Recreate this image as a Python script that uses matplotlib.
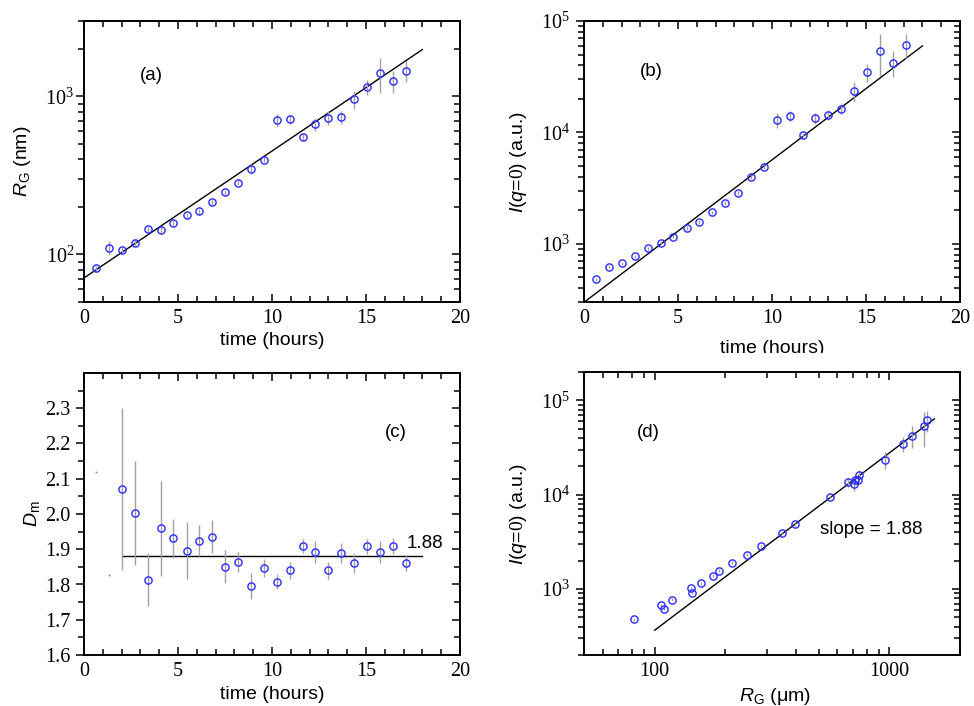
import matplotlib
matplotlib.use("Agg")
import matplotlib.pyplot as plt
import numpy as np
from matplotlib.ticker import MultipleLocator, LogLocator, FuncFormatter, NullFormatter, FixedLocator
from matplotlib.transforms import Bbox, TransformedBbox

plt.rcParams['font.family'] = ['Liberation Sans', 'DejaVu Sans']
plt.rcParams['mathtext.fontset'] = 'custom'
plt.rcParams['mathtext.rm'] = 'Liberation Serif'
plt.rcParams['mathtext.it'] = 'Liberation Sans:italic'
plt.rcParams['mathtext.sf'] = 'Liberation Sans'

# ---------------- data ----------------
times = [0.66, 1.33, 2.04, 2.71, 3.42, 4.10, 4.75, 5.46, 6.13, 6.83, 7.52, 8.21, 8.90,
         9.57, 10.25, 10.94, 11.63, 12.30, 13.00, 13.67, 14.36, 15.05, 15.74, 16.42, 17.11]

rg = [81.5, 110, 106.5, 118.5, 144, 143, 158, 177, 188, 214, 247, 284, 349,
      397, 708, 715, 556, 668, 733, 740, 957, 1140, 1406, 1250, 1445]
rg_err = [3, 11, 5, 5, 6, 6, 6, 7, 7, 8, 9, 10, 25,
          15, 70, 45, 25, 60, 70, 70, 130, 125, 350, 200, 220]

i_q0 = [479, 622, 671, 770, 908, 1021, 1156, 1391, 1563, 1909, 2316, 2866, 3961,
        4870, 12850, 14160, 9570, 13490, 14350, 16360, 23560, 34900, 53800, 42300, 61400]
i_err = [15, 20, 20, 25, 30, 35, 40, 50, 55, 70, 80, 100, 150,
         200, 2000, 1500, 400, 1500, 1500, 1800, 5000, 6500, 22000, 11000, 15000]

dm_times = times[2:]
dm = [2.072, 2.003, 1.814, 1.959, 1.931, 1.896, 1.924, 1.936, 1.851, 1.863, 1.796,
      1.847, 1.808, 1.840, 1.909, 1.892, 1.841, 1.889, 1.861, 1.908, 1.892, 1.909, 1.861]
dm_err = [0.23, 0.148, 0.075, 0.135, 0.056, 0.08, 0.044, 0.048, 0.048, 0.028, 0.038,
          0.026, 0.021, 0.025, 0.021, 0.03, 0.024, 0.029, 0.028, 0.021, 0.031, 0.022, 0.023]
dm_stray_t = times[:2]
dm_stray = [2.12, 1.826]

# fits
fit_t = [0.0, 18.0]
rg_fit0, rg_fit_log_slope = 71.0, 0.0803      # log10 per hour
i_fit0, i_fit_log_slope = 298.0, 0.1279
dm_fit = 1.88
dm_fit_t = [2.04, 18.0]
slope = 1.88
d_fit_rg = [100.0, 1556.0]
d_fit_amp = 366.0   # I at RG=100

# ---------------- style ----------------
BLUE = '#2b2bff'
GREY = '#a0a0a0'
TICK_FS = 14.5
LAB_FS = 14
TXT_FS = 13.5

fig = plt.figure(figsize=(9.74, 7.06), dpi=100)
W, H = 974, 706
def pos(l, t, r, b):
    return [l / W, 1 - b / H, (r - l) / W, (b - t) / H]

axA = fig.add_axes(pos(84, 21, 460, 302))
axB = fig.add_axes(pos(584, 21, 960, 302))
axC = fig.add_axes(pos(84, 373, 460, 655))
axD = fig.add_axes(pos(584, 372, 960, 655))

pow_fmt = FuncFormatter(lambda v, p: r'$\mathrm{10^{%d}}$' % int(round(np.log10(v))))

def style(ax, ylog, ypad):
    for s in ax.spines.values():
        s.set_linewidth(1.2)
    ax.tick_params(axis='x', which='both', direction='in', top=True, bottom=True,
                   labelsize=TICK_FS, labelfontfamily='Liberation Serif', pad=5, width=1.1)
    ax.tick_params(axis='x', which='major', length=6)
    ax.tick_params(axis='x', which='minor', length=4)
    ax.tick_params(axis='y', which='both', direction='out', left=True, right=False,
                   labelsize=TICK_FS, labelfontfamily='Liberation Serif', pad=ypad, width=1.1)
    ax.tick_params(axis='y', which='major', length=6)
    ax.tick_params(axis='y', which='minor', length=4)
    tw = ax.twinx()
    if ylog:
        tw.set_yscale('log')
        tw.yaxis.set_major_locator(LogLocator(base=10))
        tw.yaxis.set_minor_locator(LogLocator(base=10, subs=np.arange(2, 10)))
    else:
        tw.yaxis.set_major_locator(ax.yaxis.get_major_locator())
        tw.yaxis.set_minor_locator(ax.yaxis.get_minor_locator())
    tw.set_ylim(ax.get_ylim())
    tw.tick_params(axis='y', which='both', direction='in', right=True, labelright=False, width=1.1)
    tw.tick_params(axis='y', which='major', length=6)
    tw.tick_params(axis='y', which='minor', length=4)
    for s in tw.spines.values():
        s.set_linewidth(1.2)
    return tw

def time_axis(ax):
    ax.set_xlim(0, 20)
    ax.xaxis.set_major_locator(MultipleLocator(5))
    ax.xaxis.set_minor_locator(MultipleLocator(1))

def log_y(ax, lo, hi):
    ax.set_yscale('log')
    ax.set_ylim(lo, hi)
    ax.yaxis.set_major_locator(LogLocator(base=10))
    ax.yaxis.set_minor_locator(LogLocator(base=10, subs=np.arange(2, 10)))
    ax.yaxis.set_major_formatter(pow_fmt)
    ax.yaxis.set_minor_formatter(NullFormatter())

eb_kw = dict(fmt='o', mfc='none', mec=BLUE, mew=1.0, ms=5.2, ecolor=GREY,
             elinewidth=1.0, capsize=0, zorder=3)

# ---------------- (a) ----------------
time_axis(axA)
log_y(axA, 50, 3000)
axA.errorbar(times, rg, yerr=rg_err, **eb_kw)
t_line = np.array(fit_t)
axA.plot(t_line, rg_fit0 * 10 ** (rg_fit_log_slope * t_line), color='black', lw=1.0, zorder=2)
axA.text(3.6, 1365, '(a)', fontsize=TXT_FS, ha='center', va='center')
axA.set_xlabel('time (hours)', fontsize=LAB_FS)
axA.set_ylabel(r'$\mathit{R}_{\mathsf{G}}$ (nm)', fontsize=LAB_FS)
axA.xaxis.set_label_coords(0.5, -0.108)
axA.yaxis.set_label_coords(-0.136, 0.5)
style(axA, True, 1)

# ---------------- (b) ----------------
time_axis(axB)
log_y(axB, 300, 1e5)
axB.errorbar(times, i_q0, yerr=i_err, **eb_kw)
axB.plot(t_line, i_fit0 * 10 ** (i_fit_log_slope * t_line), color='black', lw=1.0, zorder=2)
axB.text(3.6, 35400, '(b)', fontsize=TXT_FS, ha='center', va='center')
xlb = axB.set_xlabel('time (hours)', fontsize=LAB_FS)
axB.set_ylabel(r'$\mathit{I}$($\mathit{q}$=$\mathit{0}$) (a.u.)', fontsize=LAB_FS)
axB.xaxis.set_label_coords(0.5, -0.135)
axB.yaxis.set_label_coords(-0.146, 0.5)
style(axB, True, 4)
xlb.set_clip_box(TransformedBbox(Bbox([[0.5, 0.5], [1.0, 1.0]]), fig.transFigure))
xlb.set_clip_on(True)

# ---------------- (c) ----------------
time_axis(axC)
axC.set_ylim(1.6, 2.4)
axC.yaxis.set_major_locator(FixedLocator(np.round(np.arange(1.6, 2.31, 0.1), 2)))
axC.yaxis.set_minor_locator(FixedLocator(np.round(np.arange(1.65, 2.40, 0.1), 2)))
axC.yaxis.set_major_formatter(FuncFormatter(lambda v, p: '%.1f' % v))
axC.errorbar(dm_times, dm, yerr=dm_err, **eb_kw)
axC.plot(dm_stray_t, dm_stray, 's', color='#888888', ms=1.3, mew=0, zorder=3)
axC.plot(dm_fit_t, [dm_fit, dm_fit], color='black', lw=1.0, zorder=2)
axC.text(17.15, 1.915, '1.88', fontsize=TXT_FS, ha='left', va='center')
axC.text(16.56, 2.232, '(c)', fontsize=TXT_FS, ha='center', va='center')
axC.set_xlabel('time (hours)', fontsize=LAB_FS)
axC.set_ylabel(r'$\mathit{D}_{\mathsf{m}}$', fontsize=LAB_FS)
axC.xaxis.set_label_coords(0.5, -0.11)
axC.yaxis.set_label_coords(-0.112, 0.5)
style(axC, False, 4)

# ---------------- (d) ----------------
axD.set_xscale('log')
axD.set_xlim(50, 2000)
axD.xaxis.set_major_locator(LogLocator(base=10))
axD.xaxis.set_minor_locator(LogLocator(base=10, subs=np.arange(2, 10)))
axD.xaxis.set_major_formatter(FuncFormatter(lambda v, p: '%d' % int(round(v))))
axD.xaxis.set_minor_formatter(NullFormatter())
log_y(axD, 200, 2e5)
axD.errorbar(rg, i_q0, yerr=i_err, **eb_kw)
rl = np.array(d_fit_rg)
axD.plot(rl, d_fit_amp * (rl / 100.0) ** slope, color='black', lw=1.0, zorder=2)
axD.text(94, 45300, '(d)', fontsize=TXT_FS, ha='center', va='center')
axD.text(504, 4315, 'slope = 1.88', fontsize=TXT_FS, ha='left', va='center')
axD.set_xlabel(r'$\mathit{R}_{\mathsf{G}}$ (μm)', fontsize=LAB_FS)
axD.set_ylabel(r'$\mathit{I}$($\mathit{q}$=$\mathit{0}$) (a.u.)', fontsize=LAB_FS)
axD.xaxis.set_label_coords(0.508, -0.11)
axD.yaxis.set_label_coords(-0.146, 0.5)
style(axD, True, 4)

fig.savefig('out.png', dpi=100)
